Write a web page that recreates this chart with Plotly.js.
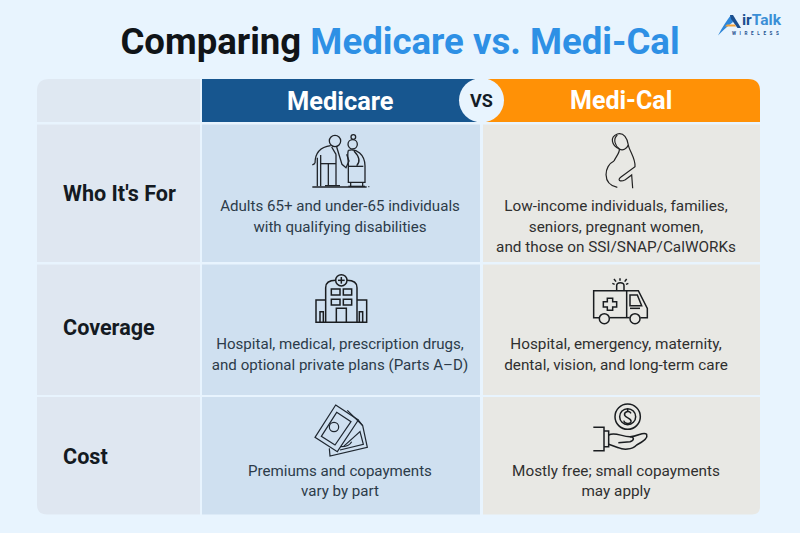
<!DOCTYPE html>
<html><head><meta charset="utf-8">
<script src="https://cdn.plot.ly/plotly-3.0.1.min.js"></script>
<style>html,body{margin:0;padding:0;background:#E8F4FE}#c{width:800px;height:533px}</style>
</head><body><div id="c"></div>
<script>
const columns = ["Medicare", "Medi-Cal"];
const rowLabels = ["Who It's For", "Coverage", "Cost"];
const medicareLines = [
  ["Adults 65+ and under-65 individuals", "with qualifying disabilities"],
  ["Hospital, medical, prescription drugs,", "and optional private plans (Parts A–D)"],
  ["Premiums and copayments", "vary by part"]
];
const mediCalLines = [
  ["Low-income individuals, families,", "seniors, pregnant women,", "and those on SSI/SNAP/CalWORKs"],
  ["Hospital, emergency, maternity,", "dental, vision, and long-term care"],
  ["Mostly free; small copayments", "may apply"]
];

const FONT = "Roboto, sans-serif";
const BG = "#E8F4FE";
const colMed = {c:340, head:340.5, l:202, r:480}, colCal = {c:616, head:620.5, l:483, r:760};
const rows = [{t:124.5,b:262,label:193},{t:264.5,b:395,label:327},{t:397,b:514.5,label:456}];
const firstLine = [[207.5,228],[345,366],[472,492]];
const firstLineCal = [[207.5,228,248],[345,366],[472,492]];

const shapes = [];
const rect = (x0,y0,x1,y1,fill)=>shapes.push({type:"rect",xref:"x",yref:"y",x0,y0,x1,y1,fillcolor:fill,line:{width:0},layer:"below"});
const rpath = (path,fill)=>shapes.push({type:"path",xref:"x",yref:"y",path,fillcolor:fill,line:{width:0},layer:"below"});
rpath("M37 122 L37 91 Q37 79 49 79 L200 79 L200 122 Z","#DFE8F2");
rect(202,79,481,122,"#17568F");
rpath("M481 79 L748 79 Q760 79 760 91 L760 122 L481 122 Z","#FF9106");
rows.forEach((r,i)=>{
  if(i<2){ rect(37,r.t,200,r.b,"#DFE7F1"); rect(colCal.l,r.t,colCal.r,r.b,"#E8E8E4"); }
  else {
    rpath(`M37 ${r.t} L200 ${r.t} L200 ${r.b} L47 ${r.b} Q37 ${r.b} 37 ${r.b-10} Z`,"#DFE7F1");
    rpath(`M${colCal.l} ${r.t} L${colCal.r} ${r.t} L${colCal.r} ${r.b-8} Q${colCal.r} ${r.b} ${colCal.r-8} ${r.b} L${colCal.l} ${r.b} Z`,"#E8E8E4");
  }
  rect(colMed.l,r.t,colMed.r,r.b,"#CFE0F0");
});
shapes.push({type:"circle",xref:"x",yref:"y",x0:459,y0:78,x1:504,y1:122.5,fillcolor:BG,line:{width:0},layer:"below"});

function T(path,ox,oy){let n=0;return path.replace(/-?\d+(\.\d+)?/g,v=>{const o=(n++%2===0)?ox:oy;return (o+parseFloat(v)/3).toFixed(2);});}
function icon(list,ox,oy,w,color){
  list.forEach(p=>{
    if(Array.isArray(p)){const [cx,cy,r]=p;
      shapes.push({type:"circle",xref:"x",yref:"y",x0:ox+(cx-r)/3,x1:ox+(cx+r)/3,y0:oy+(cy-r)/3,y1:oy+(cy+r)/3,line:{color,width:w},layer:"above"});
    } else shapes.push({type:"path",xref:"x",yref:"y",path:T(p,ox,oy),line:{color,width:w},layer:"above"});
  });
}
const couple=[
 "M337 186 L500 186","M505 185 L508 185",[405,48,17],
 "M345 115 C345 85 362 66 392 62","M345 115 L337 120","M352 98 L352 184","M362 90 L362 184",
 "M362 116 L408 116","M385 116 L385 180","M408 88 L408 180","M375 182 L420 182",
 "M410 66 L426 118 L438 128 L447 108 L440 88","M395 66 L408 88",
 [458,58,14],[460,36,7],
 "M445 76 C470 70 494 88 495 122 L495 172 L445 172 L445 130 C447 110 440 92 445 76",
 "M462 78 C478 95 482 110 470 122","M445 124 L490 124","M452 172 L452 184","M488 172 L488 184","M445 184 L495 184"];
icon(couple,200,125,1.3,"#1f2328");
const pregnant=[
 "M418 72 C395 62 388 36 412 27 C432 22 442 40 445 60 C448 78 467 100 465 125 L424 155 C410 165 420 172 436 164 L455 150 L458 190",
 "M412 30 C398 42 405 62 418 72 C420 82 410 92 402 108",
 "M402 108 C372 122 365 178 412 187","M418 72 C428 78 440 72 445 60"];
icon(pregnant,480,125,1.2,"#222");
const hospital=[
 [424,46,17],"M424 36 L424 56","M414 46 L434 46",
 "M377 172 L377 68 C377 52 390 46 407 46","M441 46 C460 46 471 52 471 68 L471 172",
 "M377 105 L348 105 L348 172 L500 172 L500 105 L471 105",
 "M394 72 L420 72 L420 90 L394 90 Z","M430 72 L455 72 L455 90 L430 90 Z",
 "M394 103 L420 103 L420 120 L394 120 Z","M430 103 L455 103 L455 120 L430 120 Z",
 "M409 172 L409 130 L439 130 L439 172",
 "M360 172 L360 140 L370 140 L370 172","M478 172 L478 140 L488 140 L488 172"];
icon(hospital,200,265,1.5,"#1a1d20");
const ambulance=[
 "M357 158 L341 158 L341 77 L475 77 L502 130 L502 158 L481 158","M389 158 L449 158",[373,161,15],[465,161,15],
 "M440 77 L440 158","M450 90 L472 90 L485 122 L450 122 Z","M450 130 L480 130",
 "M382 100 L398 100 L398 110 L410 110 L410 126 L398 126 L398 136 L382 136 L382 126 L370 126 L370 110 L382 110 Z",
 "M410 77 L410 62 C410 50 432 50 432 62 L432 77",
 "M420 40 L420 47","M402 42 L408 50","M440 42 L434 50","M397 55 L404 58","M445 55 L438 58"];
icon(ambulance,480,265,1.5,"#1a1d20");
const money=[
 "M407 30 L475 75 L412 170 L345 127 Z","M410 52 L453 80 L405 150 L364 124 Z",[402,96,14],
 "M442 46 L488 92 L502 157 L390 183 L388 160","M475 75 L488 92 M430 155 L480 110 L490 148 L420 165",
 "M422 155 C440 155 450 150 455 140"];
icon(money,200,395,1.2,"#1f2730");
const coin=[
 [443,65,38],[443,65,24],
 "M453 55 C447 45 431 50 434 61 C437 70 455 68 453 80 C449 90 433 85 431 77","M443 42 L443 48 M443 84 L443 90",
 "M340 97 L372 97 L372 167 L340 167","M372 108 L386 108 L386 155 L372 155",
 "M386 120 C405 110 425 125 450 125 C475 125 490 108 500 118 C505 130 482 144 470 150 C455 165 430 165 415 158 L386 148",
 "M415 143 L450 140 C465 135 462 125 450 125"];
icon(coin,480,395,1.5,"#1a1d20");

rpath("M718 35.5 C722 28 727 20 731 15 L733 22 C728 26 723 30 718 35.5 Z","#2E86D8");
rpath("M730 15 L733 15 L741 28 L737.5 28 L731 19 Z","#1B4F8F");
rpath("M727 24.5 L735 24.5 L736 26.5 L725 26.5 Z","#F2A23A");

function lineTrace(col,lines,ys,color,size){
  const x=[],y=[],text=[];
  lines.forEach((ls,i)=>ls.forEach((t,j)=>{x.push(col.c);y.push(ys[i][j]);text.push(t);}));
  return {type:"scatter",mode:"text",x,y,text,textposition:"middle center",hoverinfo:"skip",showlegend:false,cliponaxis:false,
    textfont:{family:FONT,size,color}};
}
const data=[lineTrace(colMed,medicareLines,firstLine,"#2C3B49",15.1),lineTrace(colCal,mediCalLines,firstLineCal,"#2f2f2f",15.3)];

const ann=(x,y,text,size,color,extra={})=>Object.assign({xref:"x",yref:"y",x,y,text,showarrow:false,font:{family:FONT,size,color,weight:700},xanchor:"center",yanchor:"middle"},extra);
const annotations=[
 ann(colMed.head,100.5,columns[0],25.4,"#fff"),
 ann(colCal.head,100.5,columns[1],25,"#fff"),
 ann(481.5,100.5,"VS",18,"#141c26"),
 ...rowLabels.map((t,i)=>ann(61,rows[i].label,t,21.6,"#141a22",{xanchor:"left"})),
 ann(739.5,20,'<span style="color:#1B4F8F">ir</span><span style="color:#3B8FD6">Talk</span>',15.5,"#3B8FD6",{xanchor:"left"}),
 ann(757,33,'<span style="letter-spacing:3.6px">WIRELESS</span>',4.6,"#1B4F8F")
];

const layout={
 width:800,height:533,margin:{l:0,r:0,t:0,b:0},paper_bgcolor:BG,plot_bgcolor:BG,showlegend:false,
 title:{text:'Comparing <span style="color:#2E90E5">Medicare vs. Medi-Cal</span>',x:0.5,xanchor:"center",y:0.923,yanchor:"middle",yref:"paper",
   font:{family:FONT,size:36.6,color:"#101418",weight:700}},
 xaxis:{range:[0,800],visible:false,fixedrange:true},
 yaxis:{range:[533,0],visible:false,fixedrange:true},
 shapes,annotations
};
Plotly.newPlot("c",data,layout,{displayModeBar:false,staticPlot:true});
</script></body></html>
